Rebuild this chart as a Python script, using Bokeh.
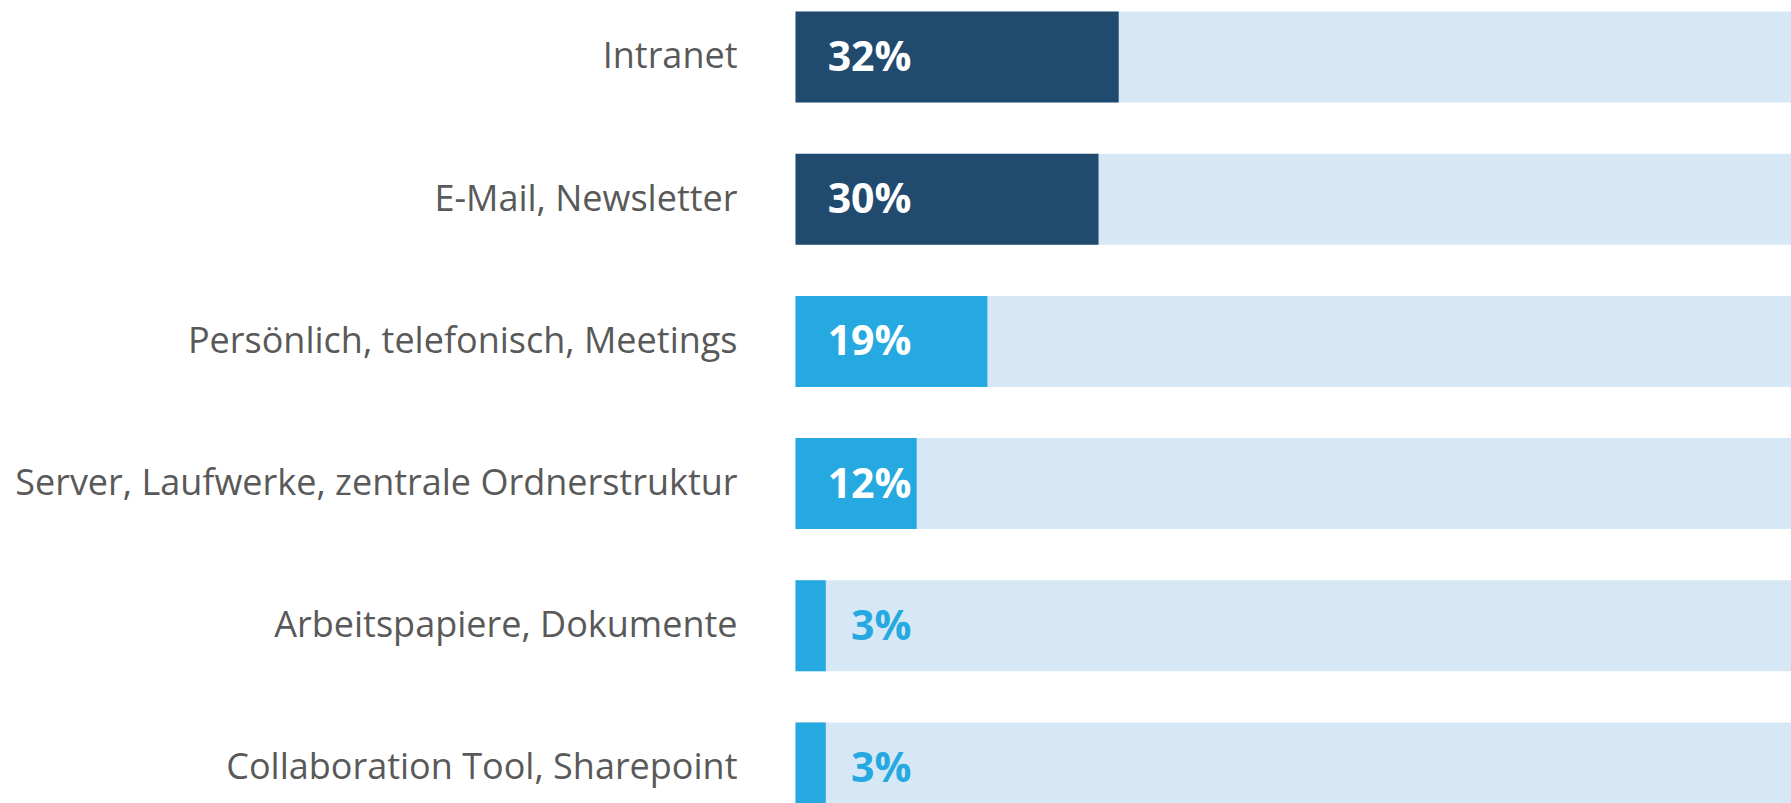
from bokeh.plotting import figure
from bokeh.models import ColumnDataSource, Range1d
from bokeh.core.properties import value
from bokeh.embed import file_html
from bokeh.resources import INLINE

categories = [
    "Intranet",
    "E-Mail, Newsletter",
    "Persönlich, telefonisch, Meetings",
    "Server, Laufwerke, zentrale Ordnerstruktur",
    "Arbeitspapiere, Dokumente",
    "Collaboration Tool, Sharepoint",
]
values = [32, 30, 19, 12, 3, 3]
bar_colors = ["#204A6E", "#204A6E", "#25A9E0", "#25A9E0", "#25A9E0", "#25A9E0"]
label_colors = ["#FFFFFF", "#FFFFFF", "#FFFFFF", "#FFFFFF", "#25A9E0", "#25A9E0"]
totals = [100] * len(categories)
pct_labels = [f"{v}%" for v in values]

n = len(categories)
ypos = [n - 1 - i for i in range(n)]

src = ColumnDataSource(dict(
    cat=categories, y=ypos, val=values, total=totals, color=bar_colors,
    lcolor=label_colors, pct=pct_labels, zero=[0] * n,
))

p = figure(
    width=1791, height=803,
    y_range=Range1d(-0.2497, 5.3973),
    x_range=Range1d(-78.71, 98.61),
    output_backend="svg", toolbar_location=None,
    min_border=0, min_border_left=0, min_border_right=0,
    min_border_top=0, min_border_bottom=0,
)
p.axis.visible = False
p.grid.visible = False
p.outline_line_color = None
p.background_fill_color = "white"
p.border_fill_color = "white"

bh = 91 / 142.2
p.hbar(y="y", left=0, right="total", height=bh, source=src,
       fill_color="#D6E8F5", line_color=None)
p.hbar(y="y", left=0, right="val", height=bh, source=src,
       fill_color="color", line_color=None)

p.text(x="zero", y="y", text="cat", source=src, x_offset=-58, y_offset=-2,
       text_align="right", text_baseline="middle",
       text_font=value("Open Sans"), text_font_size="36px", text_color="#595959")

p.text(x="zero", y="y", text="pct", source=src, x_offset=116, y_offset=-2,
       text_align="right", text_baseline="middle",
       text_font=value("Open Sans"), text_font_style="bold",
       text_font_size="41px", text_color="lcolor")

open("out.html", "w").write(file_html(p, INLINE))
